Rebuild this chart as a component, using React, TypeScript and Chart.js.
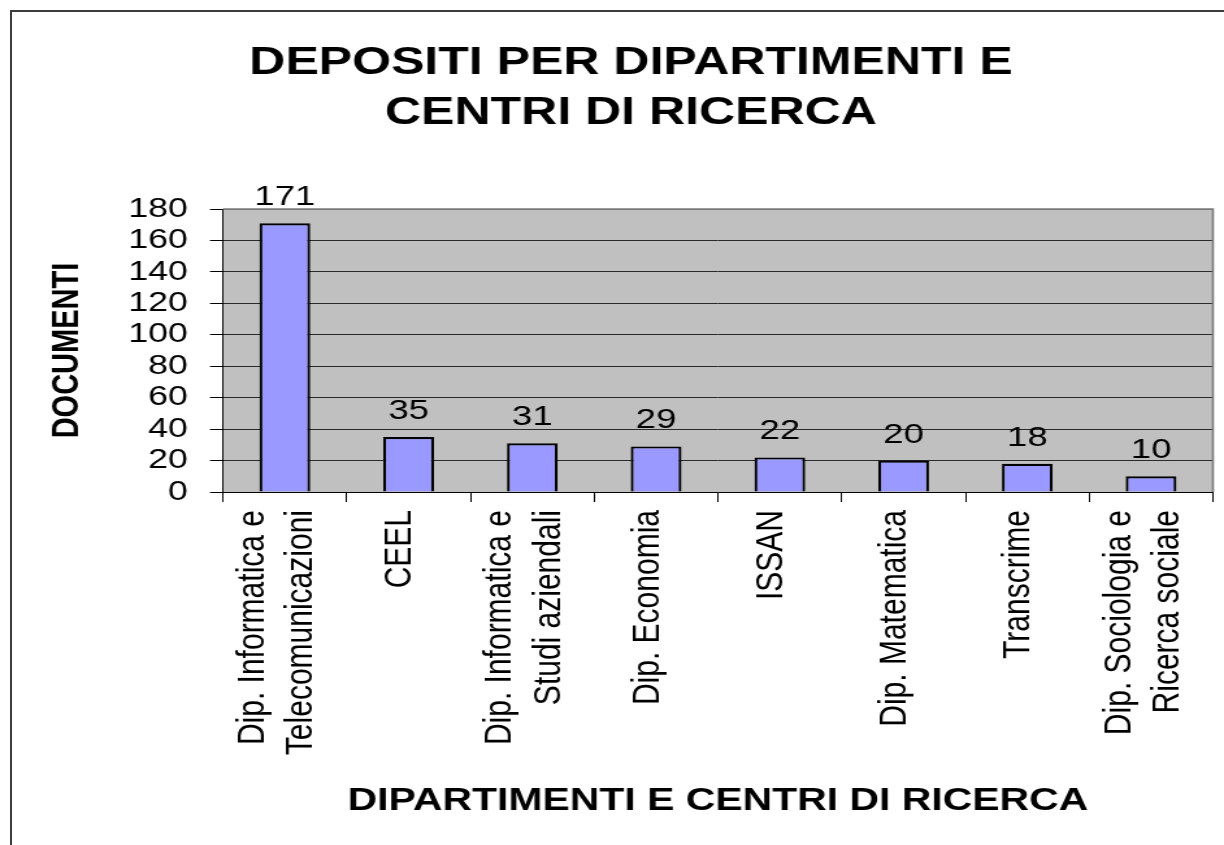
import React, { useEffect, useRef } from "react";
import { Chart, registerables } from "chart.js";

Chart.register(...registerables);

const titleLines = ["DEPOSITI PER DIPARTIMENTI E", "CENTRI DI RICERCA"];
const xAxisTitle = "DIPARTIMENTI E CENTRI DI RICERCA";
const yAxisTitle = "DOCUMENTI";
const categories = [
  ["Dip. Informatica e", "Telecomunicazioni"],
  ["CEEL"],
  ["Dip. Informatica e", "Studi aziendali"],
  ["Dip. Economia"],
  ["ISSAN"],
  ["Dip. Matematica"],
  ["Transcrime"],
  ["Dip. Sociologia e", "Ricerca sociale"],
];
const documenti = [171, 35, 31, 29, 22, 20, 18, 10];
const yMin = 0;
const yMax = 180;
const yStep = 20;

const FONT = "'Liberation Sans', Arial, sans-serif";
const LOGICAL_W = 942;
const H = 845;
const SCALE_X = 1224 / LOGICAL_W;

const plotBg = {
  id: "plotBg",
  beforeDraw(chart: any) {
    const { ctx, chartArea: a } = chart;
    ctx.save();
    ctx.fillStyle = "#C0C0C0";
    ctx.fillRect(a.left, a.top, a.right - a.left, a.bottom - a.top);
    ctx.restore();
  },
  beforeDatasetsDraw(chart: any) {
    const { ctx, chartArea: a } = chart;
    ctx.save();
    ctx.strokeStyle = "#7a7a7a";
    ctx.lineWidth = 1.6;
    ctx.beginPath();
    ctx.moveTo(a.left, a.top);
    ctx.lineTo(a.right, a.top);
    ctx.lineTo(a.right, a.bottom);
    ctx.stroke();
    ctx.restore();
  },
};

// Shift x tick labels so that multi-line labels sit around the category centre
const labelShift = {
  id: "labelShift",
  afterUpdate(chart: any) {
    const scale = chart.scales.x;
    if (!scale) return;
    const items = scale.getLabelItems();
    items.forEach((it: any) => {
      const lines = Array.isArray(it.label) ? it.label.length : 1;
      const shift = lines > 1 ? -24.6 : -6.5;
      it.textOffset += shift;
    });
  },
};

const valueLabels = {
  id: "valueLabels",
  afterDatasetsDraw(chart: any) {
    const { ctx } = chart;
    const meta = chart.getDatasetMeta(0);
    const data = chart.data.datasets[0].data;
    ctx.save();
    ctx.fillStyle = "#000";
    ctx.font = `28px ${FONT}`;
    ctx.textAlign = "center";
    ctx.textBaseline = "alphabetic";
    meta.data.forEach((bar: any, i: number) => {
      ctx.fillText(String(data[i]), bar.x, bar.y - 18);
    });
    ctx.restore();
  },
};

export default function App() {
  const ref = useRef<HTMLCanvasElement | null>(null);

  useEffect(() => {
    if (!ref.current) return;
    Chart.defaults.color = "#000";
    const chart = new Chart(ref.current, {
      type: "bar",
      data: {
        labels: categories,
        datasets: [
          {
            data: documenti,
            backgroundColor: "#9999FF",
            borderColor: "#000",
            borderWidth: 2.2,
            barPercentage: 0.41,
            categoryPercentage: 1,
          },
        ],
      },
      options: {
        animation: false,
        responsive: false,
        devicePixelRatio: 1,
        layout: { padding: { left: 31, right: 1.8, top: 28, bottom: 20 } },
        plugins: {
          legend: { display: false },
          tooltip: { enabled: false },
          title: {
            display: true,
            text: titleLines,
            color: "#000",
            font: { family: FONT, size: 38.5, weight: "bold", lineHeight: 1.3 },
            padding: { top: 10, bottom: 71 },
          },
        },
        scales: {
          x: {
            grid: {
              display: true,
              drawOnChartArea: false,
              drawTicks: true,
              tickLength: 10,
              tickColor: "#000",
              offset: true,
            },
            border: { display: true, color: "#000", width: 1 },
            ticks: {
              autoSkip: false,
              minRotation: 90,
              maxRotation: 90,
              padding: 8,
              color: "#000",
              font: { family: FONT, size: 30, lineHeight: 1.25 },
            },
            title: {
              display: true,
              text: xAxisTitle,
              color: "#000",
              font: { family: FONT, size: 31.5, weight: "bold", lineHeight: 1.2 },
              padding: { top: 4, bottom: 5 },
            },
            afterFit(scale: any) {
              scale.height = H - 20 - 492;
              scale.paddingLeft = 0;
              scale.paddingRight = 0;
            },
          },
          y: {
            min: yMin,
            max: yMax,
            grid: {
              color: "#2a2a2a",
              lineWidth: 1,
              drawTicks: true,
              tickLength: 10,
              tickColor: "#000",
            },
            border: { display: true, color: "#000", width: 1 },
            ticks: {
              stepSize: yStep,
              autoSkip: false,
              padding: 17,
              color: "#000",
              font: { family: FONT, size: 27.5 },
            },
            title: {
              display: true,
              text: yAxisTitle,
              color: "#000",
              font: { family: FONT, size: 29, weight: "bold", lineHeight: 1.2 },
              padding: { top: 3.5, bottom: 0 },
            },
            afterFit(scale: any) {
              scale.width = 171.6 - 31;
              scale.paddingTop = 0;
              scale.paddingBottom = 0;
            },
          },
          yRight: {
            position: "right",
            display: true,
            grid: { display: false, drawTicks: false },
            border: { display: false },
            ticks: { display: false },
            afterFit(scale: any) {
              scale.width = 6.7;
              scale.paddingTop = 0;
              scale.paddingBottom = 0;
            },
          },
        },
      },
      plugins: [plotBg, labelShift, valueLabels],
    } as any);
    return () => chart.destroy();
  }, []);

  return (
    <div
      style={{
        position: "fixed",
        left: 0,
        top: 0,
        width: 1224,
        height: 845,
        overflow: "hidden",
        background: "#fff",
      }}
    >
      <div
        style={{
          position: "absolute",
          left: 0,
          top: 0,
          width: LOGICAL_W,
          height: H,
          transform: `scaleX(${SCALE_X})`,
          transformOrigin: "0 0",
        }}
      >
        <canvas ref={ref} width={LOGICAL_W} height={H} />
      </div>
      <div
        style={{
          position: "absolute",
          left: 10,
          top: 10,
          width: 1300,
          height: 900,
          borderLeft: "2px solid #3c3c3c",
          borderTop: "2px solid #3c3c3c",
          pointerEvents: "none",
        }}
      />
    </div>
  );
}
